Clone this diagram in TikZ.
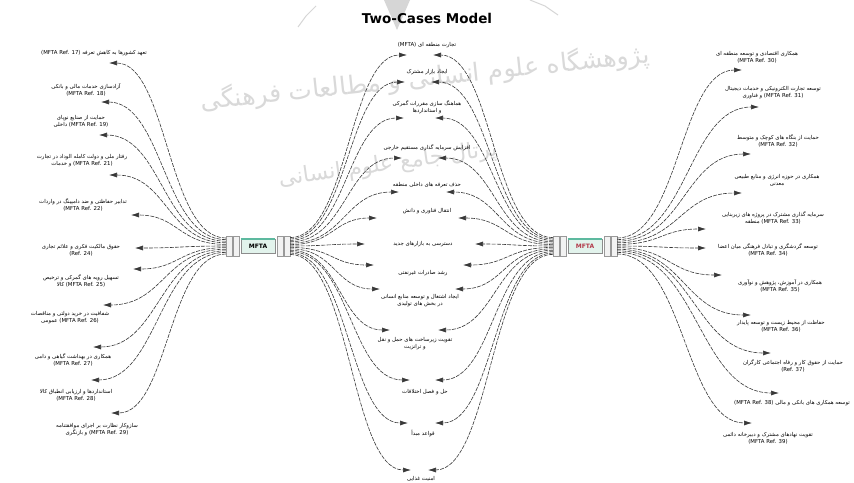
\documentclass[tikz,border=0pt]{standalone}
\usepackage{fontspec}
\setmainfont{DejaVu Sans}
\newfontfamily\farsi[Script=Arabic]{DejaVu Sans}
\newfontfamily\latin{DejaVu Sans}
\usetikzlibrary{arrows.meta,calc}
\TeXXeTstate=1
\newcommand\fa[1]{\beginR #1\endR}
\newcommand\en[1]{\beginL{\latin #1}\endL}
% S-shaped connector: horizontal at both ends, control points at half the run
\newcommand\conn[2]{\path ($(#1)!0.5!(#2)$) coordinate (cm);%
  \draw[link] (#1) .. controls (cm |- #1) and (cm |- #2) .. (#2);}
\definecolor{mint}{HTML}{E2F3EC}
\definecolor{tealbar}{HTML}{5DB99F}
\definecolor{hubred}{HTML}{B23A4A}

\begin{document}
\begin{tikzpicture}[x=1pt,y=-1pt,
  link/.style={draw=black!78, line width=0.6pt, dash pattern=on 4pt off 1.2pt,
    -{Latex[length=8pt,width=5pt]}},
  lbl/.style={font=\farsi\fontsize{5.4}{6.8}\selectfont, align=center, inner sep=0pt, text=black},
  hub/.style={draw=black!45, fill=mint, minimum width=34pt, minimum height=14pt, inner sep=0pt,
    font=\bfseries\fontsize{6}{6}\selectfont},
  port/.style={draw=black!40, fill=black!5, minimum width=6pt, minimum height=20pt, inner sep=0pt},
  wm/.style={text=black!15, inner sep=0pt, font=\farsi}]

\useasboundingbox (0,0) rectangle (854,482);
\fill[white] (0,0) rectangle (854,482);

% faint emblem and institute lettering behind the diagram
\fill[black!16] (384,0) -- (410,0) -- (397,30) -- cycle;
\draw[black!16, line width=1pt] (298,27) -- (306,16) -- (316,6);
\draw[black!16, line width=1pt] (530,0) -- (545,6) -- (558,15);
\node[wm, rotate=6, font=\farsi\fontsize{25}{25}\selectfont] (wm1) at (425,78)
  {\fa{پژوهشگاه علوم انسانی و مطالعات فرهنگی}};
\node[wm, rotate=8, font=\farsi\fontsize{22}{22}\selectfont] (wm2) at (388,165)
  {\fa{پرتال جامع علوم انسانی}};

% title
\node[font=\bfseries\fontsize{13.5}{14}\selectfont] (title) at (427,18) {Two-Cases Model};

% hubs with their side ports
\node[hub] (lhub) at (258,246) {MFTA};
\draw[tealbar, line width=1.4pt] (lhub.north west) -- (lhub.north east);
\node[port] (lp1) at (229,246) {};
\node[port] (lp2) at (236,246) {};
\node[port] (lp3) at (280,246) {};
\node[port] (lp4) at (287,246) {};

\node[hub, text=hubred] (rhub) at (585,246) {MFTA};
\draw[tealbar, line width=1.4pt] (rhub.north west) -- (rhub.north east);
\node[port] (rp1) at (556,246) {};
\node[port] (rp2) at (563,246) {};
\node[port] (rp3) at (607,246) {};
\node[port] (rp4) at (614,246) {};

% left column
\node[lbl] (L1) at (94,53) {\fa{تعهد کشورها به کاهش تعرفه \en{(MFTA Ref. 17)}}};
\node[lbl] (L2) at (86,90) {\fa{آزادسازی خدمات مالی و بانکی}\\\fa{\en{(MFTA Ref. 18)}}};
\node[lbl] (L3) at (81,121) {\fa{حمایت از صنایع نوپای}\\\fa{\en{(MFTA Ref. 19)} داخلی}};
\node[lbl] (L4) at (82,161) {\fa{رفتار ملی و دولت کامله الوداد در تجارت}\\\fa{\en{(MFTA Ref. 21)} و خدمات}};
\node[lbl] (L5) at (83,205) {\fa{تدابیر حفاظتی و ضد دامپینگ در واردات}\\\fa{\en{(MFTA Ref. 22)}}};
\node[lbl] (L6) at (81,250) {\fa{حقوق مالکیت فکری و علائم تجاری}\\\fa{\en{(Ref. 24)}}};
\node[lbl] (L7) at (81,281) {\fa{تسهیل رویه های گمرکی و ترخیص}\\\fa{\en{(MFTA Ref. 25)} کالا}};
\node[lbl] (L8) at (70,318) {\fa{شفافیت در خرید دولتی و مناقصات}\\\fa{\en{(MFTA Ref. 26)} عمومی}};
\node[lbl] (L9) at (73,360) {\fa{همکاری در بهداشت گیاهی و دامی}\\\fa{\en{(MFTA Ref. 27)}}};
\node[lbl] (L10) at (76,395) {\fa{استانداردها و ارزیابی انطباق کالا}\\\fa{\en{(MFTA Ref. 28)}}};
\node[lbl] (L11) at (97,430) {\fa{سازوکار نظارت بر اجرای موافقتنامه}\\\fa{\en{(MFTA Ref. 29)} و بازنگری}};

\foreach \i/\x/\y in {1/109/63, 2/101/102, 3/99/135, 4/109/175, 5/131/215, 6/135/248,
    7/133/269, 8/103/305, 9/93/347, 10/91/380, 11/111/413}
  \coordinate (tL\i) at (\x,\y);

% right column
\node[lbl] (R1) at (757,57) {\fa{همکاری اقتصادی و توسعه منطقه ای}\\\fa{\en{(MFTA Ref. 30)}}};
\node[lbl] (R2) at (773,93) {\fa{توسعه تجارت الکترونیکی و خدمات دیجیتال}\\\fa{\en{(MFTA Ref. 31)} و فناوری}};
\node[lbl] (R3) at (778,141) {\fa{حمایت از بنگاه های کوچک و متوسط}\\\fa{\en{(MFTA Ref. 32)}}};
\node[lbl] (R4) at (777,180) {\fa{همکاری در حوزه انرژی و منابع طبیعی}\\\fa{معدنی}};
\node[lbl] (R5) at (773,218) {\fa{سرمایه گذاری مشترک در پروژه های زیربنایی}\\\fa{\en{(MFTA Ref. 33)} منطقه}};
\node[lbl] (R6) at (768,250) {\fa{توسعه گردشگری و تبادل فرهنگی میان اعضا}\\\fa{\en{(MFTA Ref. 34)}}};
\node[lbl] (R7) at (780,286) {\fa{همکاری در آموزش، پژوهش و نوآوری}\\\fa{\en{(MFTA Ref. 35)}}};
\node[lbl] (R8) at (781,326) {\fa{حفاظت از محیط زیست و توسعه پایدار}\\\fa{\en{(MFTA Ref. 36)}}};
\node[lbl] (R9) at (793,366) {\fa{حمایت از حقوق کار و رفاه اجتماعی کارگران}\\\fa{\en{(Ref. 37)}}};
\node[lbl] (R10) at (792,403) {\fa{توسعه همکاری های بانکی و مالی \en{(MFTA Ref. 38)}}};
\node[lbl] (R11) at (768,438) {\fa{تقویت نهادهای مشترک و دبیرخانه دائمی}\\\fa{\en{(MFTA Ref. 39)}}};

\foreach \i/\x/\y in {1/742/70, 2/759/107, 3/751/154, 4/742/193, 5/706/229, 6/706/248,
    7/722/275, 8/751/315, 9/771/353, 10/779/393, 11/752/423}
  \coordinate (tR\i) at (\x,\y);

% shared middle column
\node[lbl] (C1) at (427,45) {\fa{تجارت منطقه ای \en{(MFTA)}}};
\node[lbl] (C2) at (427,72) {\fa{ایجاد بازار مشترک}};
\node[lbl] (C3) at (427,107) {\fa{هماهنگ سازی مقررات گمرکی}\\\fa{و استانداردها}};
\node[lbl] (C4) at (427,148) {\fa{افزایش سرمایه گذاری مستقیم خارجی}};
\node[lbl] (C5) at (427,185) {\fa{حذف تعرفه های داخلی منطقه}};
\node[lbl] (C6) at (427,211) {\fa{انتقال فناوری و دانش}};
\node[lbl] (C7) at (423,244) {\fa{دسترسی به بازارهای جدید}};
\node[lbl] (C8) at (423,273) {\fa{رشد صادرات غیرنفتی}};
\node[lbl] (C9) at (420,301) {\fa{ایجاد اشتغال و توسعه منابع انسانی}\\\fa{در بخش های تولیدی}};
\node[lbl] (C10) at (415,344) {\fa{تقویت زیرساخت های حمل و نقل}\\\fa{و ترانزیت}};
\node[lbl] (C11) at (425,392) {\fa{حل و فصل اختلافات}};
\node[lbl] (C12) at (423,433) {\fa{قواعد مبدأ}};
\node[lbl] (C13) at (421,479) {\fa{امنیت غذایی}};

\foreach \i/\a/\b/\y in {1/407/433/55, 2/405/431/82, 3/404/435/118, 4/402/438/158,
    5/399/446/192, 6/377/458/218, 7/365/475/244, 8/374/463/265, 9/380/455/289,
    10/390/438/330, 11/410/435/380, 12/408/435/423, 13/411/428/470} {
  \coordinate (tCL\i) at (\a,\y);
  \coordinate (tCR\i) at (\b,\y);
}

% connectors
\foreach \i in {1,...,11} {
  \coordinate (lw\i) at ($(lp1.west)+(0,{(\i-6)*1.6})$);
  \conn{lw\i}{tL\i}
  \coordinate (re\i) at ($(rp4.east)+(0,{(\i-6)*1.6})$);
  \conn{re\i}{tR\i}
}
\foreach \i in {1,...,13} {
  \coordinate (le\i) at ($(lp4.east)+(0,{(\i-7)*1.4})$);
  \conn{le\i}{tCL\i}
  \coordinate (rw\i) at ($(rp1.west)+(0,{(\i-7)*1.4})$);
  \conn{rw\i}{tCR\i}
}
\end{tikzpicture}
\end{document}
